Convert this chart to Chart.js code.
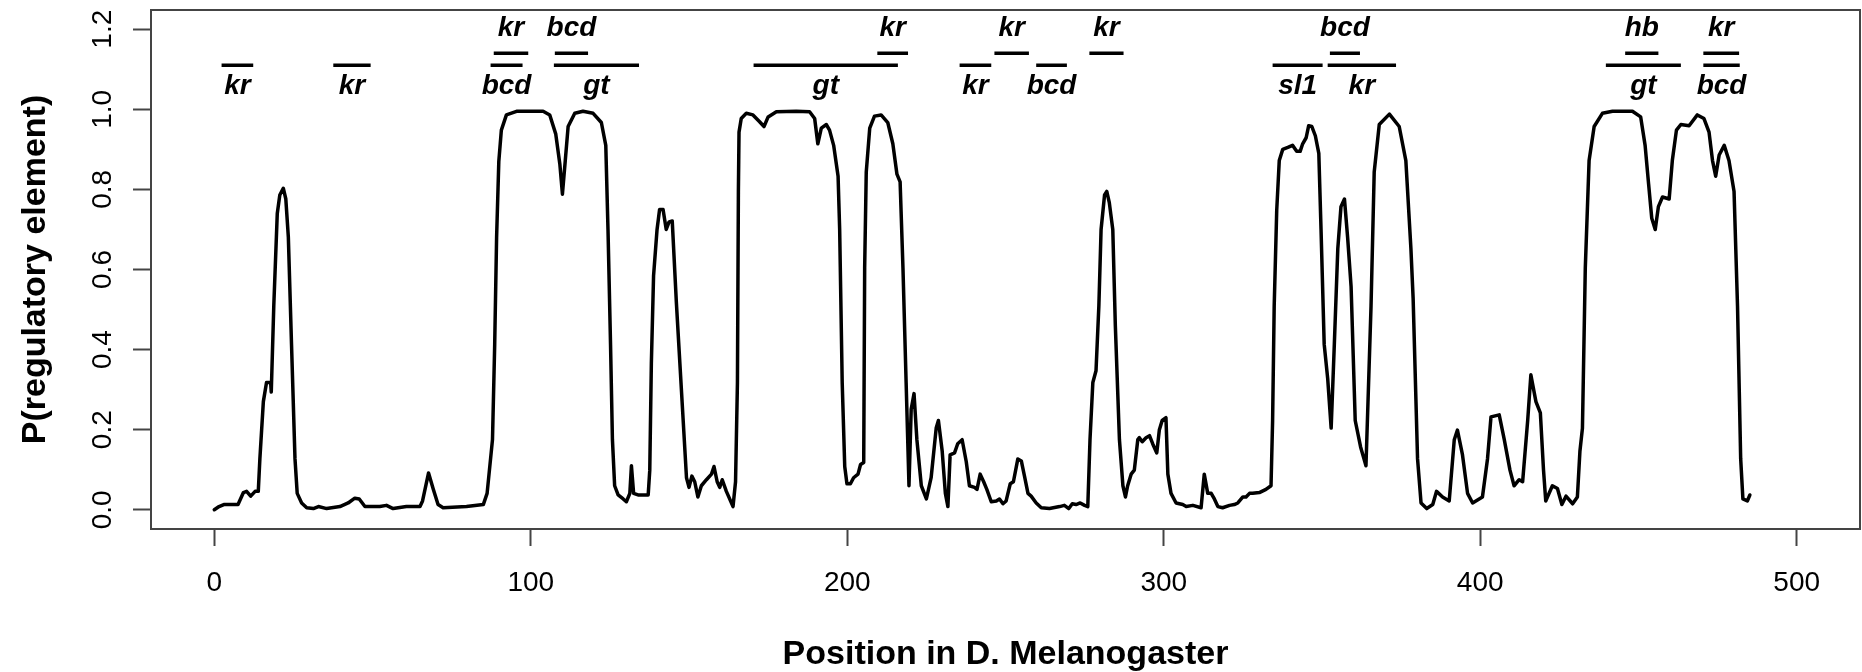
<!DOCTYPE html>
<html>
<head>
<meta charset="utf-8">
<script src="https://cdn.jsdelivr.net/npm/chart.js@4.4.1/dist/chart.umd.min.js"></script>
<style>
  html, body { margin: 0; padding: 0; background: #fff; }
  #wrap { width: 1862px; height: 672px; }
</style>
</head>
<body>
<div id="wrap"><canvas id="grafico" width="1862" height="672"></canvas></div>
<script>
// position along the sequence and posterior probability of a regulatory element
var positions = [
  0, 1.5, 3, 7.5, 9.2, 10.2, 11.5, 12.9, 13.9, 14.4, 15.5, 16.5, 17.8, 18, 18.8, 19.9, 20.7, 21.8, 22.6, 23.4,
  24.4, 25.5, 26.2, 27.6, 29.2, 31.3, 32.9, 35.5, 39.7, 42.3, 44.4, 45.8, 47.6, 52.3, 54.4, 56.5, 60.7, 65, 65.8, 67.7,
  69.2, 70.7, 72.3, 79.7, 85, 86.2, 87.9, 88.6, 89.2, 89.9, 90.7, 92.3, 95.5, 103.9, 106, 107.9, 109.2, 110, 110.9, 111.8,
  113.9, 116.5, 119.7, 122.3, 123.7, 124.4, 125.2, 125.8, 126.5, 127.6, 129.2, 130.2, 131.3, 131.8, 132.5, 133.9, 137.1, 137.6, 138.1, 138.8,
  139.9, 140.7, 141.8, 142.8, 143.7, 144.7, 146, 147.6, 149.2, 150, 150.9, 151.8, 152.8, 153.9, 155.5, 157.1, 157.9, 158.9, 159.7, 160.5,
  161.8, 163.9, 164.7, 165.3, 165.6, 165.8, 166.5, 168.1, 170.2, 172.3, 173.7, 175, 177.6, 183.9, 188.1, 189.7, 190.7, 191.8, 193.4, 194.4,
  195.7, 197.1, 197.6, 198.4, 199.2, 199.9, 201, 202, 203.4, 204.2, 205.2, 205.5, 206, 207.1, 208.6, 210.7, 212.8, 214.4, 215.7, 216.7,
  217.6, 218.6, 219.5, 220.2, 221.1, 222, 223.4, 225, 226.5, 228.1, 228.8, 230, 231, 231.8, 232.5, 233.9, 234.9, 236.3, 237.6, 238.6,
  240.2, 241, 242, 243.1, 244.1, 245.5, 247.1, 248.1, 249.2, 250.2, 251.5, 252.5, 253.9, 255, 256, 257.1, 258.1, 259.7, 261.3, 263.9,
  267.1, 268.6, 270, 271.1, 272.3, 273.6, 275, 276, 276.7, 277.6, 278.6, 279.5, 280.2, 281.3, 282, 282.8, 283.9, 284.7, 286, 287.1,
  287.9, 288.6, 289.7, 290.7, 291.8, 292.3, 293.2, 294.4, 295.5, 296.5, 297.8, 298.6, 299.5, 300.7, 301.3, 302.3, 303.9, 306, 307.1, 309.2,
  311.8, 312.8, 313.9, 315, 316, 317.1, 318.6, 320.8, 322.3, 323.4, 325, 326, 327.1, 328.1, 330.2, 332.3, 333.9, 334.4, 334.9, 335.7,
  336.5, 337.6, 339.2, 340.7, 342, 343.1, 343.9, 345, 345.8, 346.8, 347.9, 349, 349.7, 350.7, 351.8, 352.9, 353.9, 355, 356, 357.1,
  358.1, 359.2, 360.5, 362.2, 363.9, 365.5, 366.5, 368.1, 371.3, 374.4, 376.5, 378.1, 378.8, 380.2, 381.3, 383.1, 385, 386.2, 388.1, 390.2,
  391.8, 392.8, 394.4, 396, 397.6, 400.7, 402.3, 403.4, 406, 407.6, 409.4, 410.7, 412.3, 413.4, 415, 416, 417.6, 419, 420, 420.7,
  422.8, 424.4, 425.8, 427.1, 429.2, 430.7, 431.5, 432.3, 433.2, 434.4, 436, 438.6, 441.8, 448.1, 450.7, 452.1, 453.2, 454.2, 455.3, 456.3,
  457.6, 459.7, 460.7, 462, 463.4, 466, 468.6, 470.7, 472.3, 473.4, 474.4, 475.5, 477.1, 478.6, 480.2, 481.3, 482.3, 483, 484.4, 485.2
];
var probabilities = [
  0, 0.008, 0.013, 0.013, 0.043, 0.046, 0.034, 0.046, 0.046, 0.127, 0.27, 0.318, 0.318, 0.294, 0.51, 0.74, 0.786, 0.803, 0.776, 0.68,
  0.413, 0.127, 0.041, 0.017, 0.005, 0.003, 0.008, 0.003, 0.008, 0.017, 0.029, 0.027, 0.008, 0.008, 0.011, 0.003, 0.008, 0.008, 0.022, 0.092,
  0.051, 0.013, 0.005, 0.008, 0.013, 0.041, 0.175, 0.413, 0.68, 0.87, 0.948, 0.986, 0.995, 0.995, 0.986, 0.938, 0.862, 0.788, 0.872, 0.957,
  0.99, 0.995, 0.99, 0.967, 0.91, 0.7, 0.413, 0.175, 0.06, 0.037, 0.027, 0.02, 0.041, 0.11, 0.041, 0.037, 0.037, 0.099, 0.366, 0.585,
  0.7, 0.75, 0.75, 0.7, 0.719, 0.721, 0.518, 0.299, 0.08, 0.056, 0.084, 0.07, 0.032, 0.06, 0.075, 0.089, 0.108, 0.07, 0.056, 0.075,
  0.046, 0.008, 0.07, 0.318, 0.795, 0.943, 0.977, 0.99, 0.986, 0.969, 0.957, 0.981, 0.994, 0.995, 0.994, 0.977, 0.914, 0.953, 0.962, 0.948,
  0.91, 0.833, 0.7, 0.318, 0.108, 0.065, 0.065, 0.08, 0.089, 0.113, 0.118, 0.604, 0.843, 0.953, 0.983, 0.986, 0.967, 0.914, 0.838, 0.819,
  0.604, 0.318, 0.06, 0.251, 0.29, 0.175, 0.06, 0.027, 0.08, 0.204, 0.223, 0.146, 0.041, 0.008, 0.137, 0.142, 0.165, 0.175, 0.12, 0.06,
  0.056, 0.051, 0.089, 0.07, 0.051, 0.02, 0.022, 0.027, 0.015, 0.022, 0.065, 0.07, 0.127, 0.122, 0.084, 0.041, 0.034, 0.017, 0.005, 0.003,
  0.008, 0.011, 0.003, 0.015, 0.013, 0.017, 0.011, 0.008, 0.175, 0.318, 0.347, 0.509, 0.7, 0.786, 0.795, 0.767, 0.7, 0.461, 0.175, 0.06,
  0.032, 0.06, 0.089, 0.099, 0.175, 0.18, 0.17, 0.18, 0.185, 0.165, 0.142, 0.199, 0.223, 0.23, 0.089, 0.041, 0.017, 0.013, 0.008, 0.011,
  0.005, 0.089, 0.041, 0.041, 0.027, 0.008, 0.005, 0.011, 0.013, 0.017, 0.032, 0.032, 0.041, 0.041, 0.043, 0.051, 0.06, 0.223, 0.509, 0.748,
  0.872, 0.9, 0.905, 0.91, 0.895, 0.895, 0.914, 0.929, 0.959, 0.957, 0.934, 0.89, 0.7, 0.413, 0.328, 0.204, 0.413, 0.652, 0.757, 0.776,
  0.68, 0.557, 0.223, 0.157, 0.11, 0.509, 0.843, 0.962, 0.988, 0.957, 0.872, 0.652, 0.528, 0.127, 0.017, 0.003, 0.013, 0.046, 0.032, 0.022,
  0.175, 0.199, 0.137, 0.041, 0.017, 0.032, 0.127, 0.232, 0.237, 0.175, 0.099, 0.06, 0.075, 0.07, 0.223, 0.337, 0.27, 0.242, 0.099, 0.022,
  0.06, 0.053, 0.013, 0.034, 0.015, 0.032, 0.146, 0.204, 0.604, 0.872, 0.957, 0.99, 0.995, 0.995, 0.981, 0.91, 0.814, 0.728, 0.7, 0.757,
  0.781, 0.776, 0.872, 0.948, 0.962, 0.959, 0.986, 0.977, 0.943, 0.872, 0.833, 0.886, 0.91, 0.872, 0.795, 0.509, 0.127, 0.027, 0.022, 0.037
];

// known binding sites, lower row (label under the bar)
var lowerSites = ['kr', 'kr', 'bcd', 'gt', 'gt', 'kr', 'bcd', 'sl1', 'kr', 'gt', 'bcd'];
var lowerStart = [2.3, 37.6, 87.3, 107.3, 170.4, 235.5, 259.7, 334.4, 351.8, 439.7, 470.5];
var lowerEnd   = [12.3, 49.4, 97.4, 134.2, 216.0, 245.5, 269.4, 350.2, 373.4, 463.4, 482.0];

// upper row (label above the bar)
var upperSites = ['kr', 'bcd', 'kr', 'kr', 'kr', 'bcd', 'hb', 'kr'];
var upperStart = [88.3, 107.6, 209.5, 246.5, 276.5, 352.5, 445.8, 470.5];
var upperEnd   = [99.2, 118.1, 219.2, 257.4, 287.3, 362.0, 456.3, 481.8];

var xTickValues = [0, 100, 200, 300, 400, 500];
var yTickValues = [0, 0.2, 0.4, 0.6, 0.8, 1.0, 1.2];

var LOWER_LEVEL = 1.11;
var UPPER_LEVEL = 1.14;
var FONT = "'Liberation Sans', Arial, Helvetica, sans-serif";

function siteSegments(start, end, level)
{
    var pts = [];
    for (var i = 0; i < start.length; i++)
    {
        pts.push({ x: start[i], y: level });
        pts.push({ x: end[i], y: level });
        pts.push({ x: end[i], y: null });
    }
    return pts;
}

function noScalePadding(scale)
{
    scale.paddingTop = 0;
    scale.paddingBottom = 0;
    scale.paddingLeft = 0;
    scale.paddingRight = 0;
}

var curve = positions.map(function (p, i) { return { x: p, y: probabilities[i] }; });

var frameAndLabels = {
    id: 'frameAndLabels',
    afterDraw: function (chart)
    {
        var ctx = chart.ctx;
        var a = chart.chartArea;
        var xs = chart.scales.x;
        var ys = chart.scales.y;
        ctx.save();
        ctx.strokeStyle = '#444';
        ctx.lineWidth = 2;
        ctx.strokeRect(a.left, a.top, a.right - a.left, a.bottom - a.top);

        ctx.fillStyle = '#000';
        ctx.font = 'italic bold 28px ' + FONT;
        ctx.textAlign = 'center';
        ctx.textBaseline = 'alphabetic';
        var i, cx;
        for (i = 0; i < lowerSites.length; i++)
        {
            cx = xs.getPixelForValue((lowerStart[i] + lowerEnd[i]) / 2);
            ctx.fillText(lowerSites[i], cx, ys.getPixelForValue(LOWER_LEVEL) + 29);
        }
        for (i = 0; i < upperSites.length; i++)
        {
            cx = xs.getPixelForValue((upperStart[i] + upperEnd[i]) / 2);
            ctx.fillText(upperSites[i], cx, ys.getPixelForValue(UPPER_LEVEL) - 17);
        }
        ctx.restore();
    }
};

Chart.defaults.font.family = FONT;
Chart.defaults.color = '#000';

var ctx = document.getElementById('grafico');
var chart = new Chart(ctx, {
    type: 'scatter',
    data: {
        datasets: [
            {
                label: 'P(regulatory element)',
                data: curve,
                showLine: true,
                borderColor: '#000',
                borderWidth: 3.5,
                borderJoinStyle: 'round',
                borderCapStyle: 'round',
                pointRadius: 0,
                tension: 0
            },
            {
                label: 'lower sites',
                data: siteSegments(lowerStart, lowerEnd, LOWER_LEVEL),
                showLine: true,
                spanGaps: false,
                borderColor: '#000',
                borderWidth: 3.5,
                pointRadius: 0
            },
            {
                label: 'upper sites',
                data: siteSegments(upperStart, upperEnd, UPPER_LEVEL),
                showLine: true,
                spanGaps: false,
                borderColor: '#000',
                borderWidth: 3.5,
                pointRadius: 0
            }
        ]
    },
    options: {
        responsive: false,
        animation: false,
        layout: { padding: { top: 10, right: 2, left: 0, bottom: 0 } },
        plugins: { legend: { display: false }, tooltip: { enabled: false } },
        scales: {
            x: {
                type: 'linear',
                min: -20,
                max: 520,
                afterBuildTicks: function (scale) { scale.ticks = xTickValues.map(function (v) { return { value: v }; }); },
                afterFit: function (scale) { scale.height = 143; noScalePadding(scale); },
                border: { display: false },
                grid: { drawOnChartArea: false, drawTicks: true, tickLength: 17, tickWidth: 2, tickColor: '#444' },
                ticks: {
                    autoSkip: false,
                    maxRotation: 0,
                    padding: 20,
                    font: { size: 28 },
                    color: '#000',
                    callback: function (v) { return String(v); }
                },
                title: {
                    display: true,
                    text: 'Position in D. Melanogaster',
                    font: { size: 34, weight: 'bold', lineHeight: 1 },
                    padding: { top: 0, bottom: 0 },
                    color: '#000'
                }
            },
            y: {
                type: 'linear',
                min: -0.048,
                max: 1.248,
                afterBuildTicks: function (scale) { scale.ticks = yTickValues.map(function (v) { return { value: v }; }); },
                afterFit: function (scale) { scale.width = 151; noScalePadding(scale); },
                border: { display: false },
                grid: { drawOnChartArea: false, drawTicks: true, tickLength: 18, tickWidth: 2, tickColor: '#444' },
                ticks: {
                    autoSkip: false,
                    minRotation: 90,
                    maxRotation: 90,
                    crossAlign: 'center',
                    padding: 10,
                    font: { size: 28 },
                    color: '#000',
                    callback: function (v) { return v.toFixed(1); }
                },
                title: {
                    display: true,
                    text: 'P(regulatory element)',
                    font: { size: 34, weight: 'bold', lineHeight: 1 },
                    padding: { top: 19, bottom: 0 },
                    color: '#000'
                }
            }
        }
    },
    plugins: [frameAndLabels]
});
</script>
</body>
</html>
